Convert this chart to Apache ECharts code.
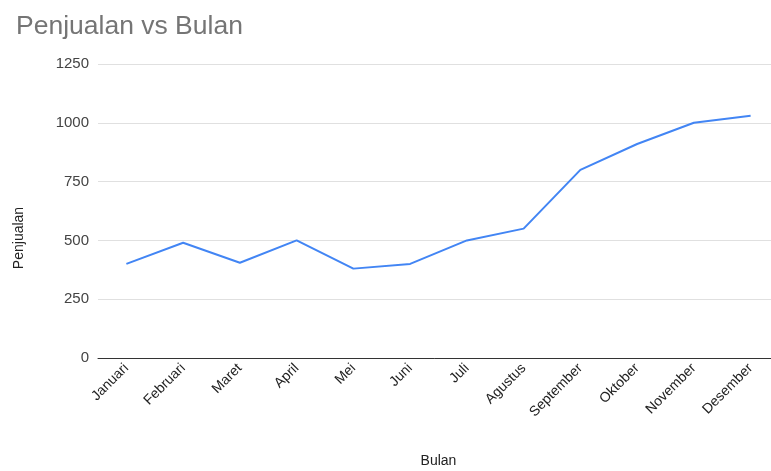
<!DOCTYPE html>
<html>
<head>
<meta charset="utf-8">
<script src="https://cdn.jsdelivr.net/npm/echarts@6/dist/echarts.min.js"></script>
<style>html,body{margin:0;padding:0;background:#fff}#c{width:771px;height:471px}</style>
</head>
<body>
<div id="c"></div>
<script>
const months = ["Januari","Februari","Maret","April","Mei","Juni","Juli","Agustus","September","Oktober","November","Desember"];
const sales = [400, 490, 405, 500, 380, 400, 500, 550, 800, 910, 1000, 1030];
const yTicks = [0, 250, 500, 750, 1000, 1250];

const FONT = '"Liberation Sans", Arial, sans-serif';
const chart = echarts.init(document.getElementById('c'), null, {renderer: 'canvas'});
chart.setOption({
  animation: false,
  backgroundColor: '#ffffff',
  title: {
    text: 'Penjualan vs Bulan',
    left: 11, top: 8,
    textStyle: {fontFamily: FONT, fontSize: 26.5, fontWeight: 'normal', color: '#757575'}
  },
  grid: {left: 98, right: -8, top: 64, bottom: 113, outerBoundsMode: 'none', containLabel: false},
  xAxis: {
    type: 'category',
    data: months,
    boundaryGap: true,
    name: 'Bulan',
    nameLocation: 'middle',
    nameGap: 96,
    nameTextStyle: {fontFamily: FONT, fontSize: 14, color: '#222'},
    axisLine: {show: true, lineStyle: {color: '#333', width: 1}},
    axisTick: {show: false},
    axisLabel: {rotate: 45, interval: 0, margin: 8, fontFamily: FONT, fontSize: 14, color: '#222'}
  },
  yAxis: {
    type: 'value',
    min: yTicks[0],
    max: yTicks[yTicks.length - 1],
    interval: 250,
    name: 'Penjualan',
    nameLocation: 'middle',
    nameGap: 72,
    nameRotate: 90,
    nameTextStyle: {fontFamily: FONT, fontSize: 14, color: '#222', padding: [0, 54, 0, 0]},
    axisLine: {show: false},
    axisTick: {show: false},
    axisLabel: {margin: 9, fontFamily: FONT, fontSize: 15, color: '#444', formatter: v => String(v)},
    splitLine: {lineStyle: {color: '#e0e0e0', width: 1}}
  },
  series: [{
    type: 'line',
    data: sales,
    showSymbol: false,
    symbol: 'none',
    lineStyle: {color: '#4285F4', width: 2},
    itemStyle: {color: '#4285F4'}
  }]
});
</script>
</body>
</html>
